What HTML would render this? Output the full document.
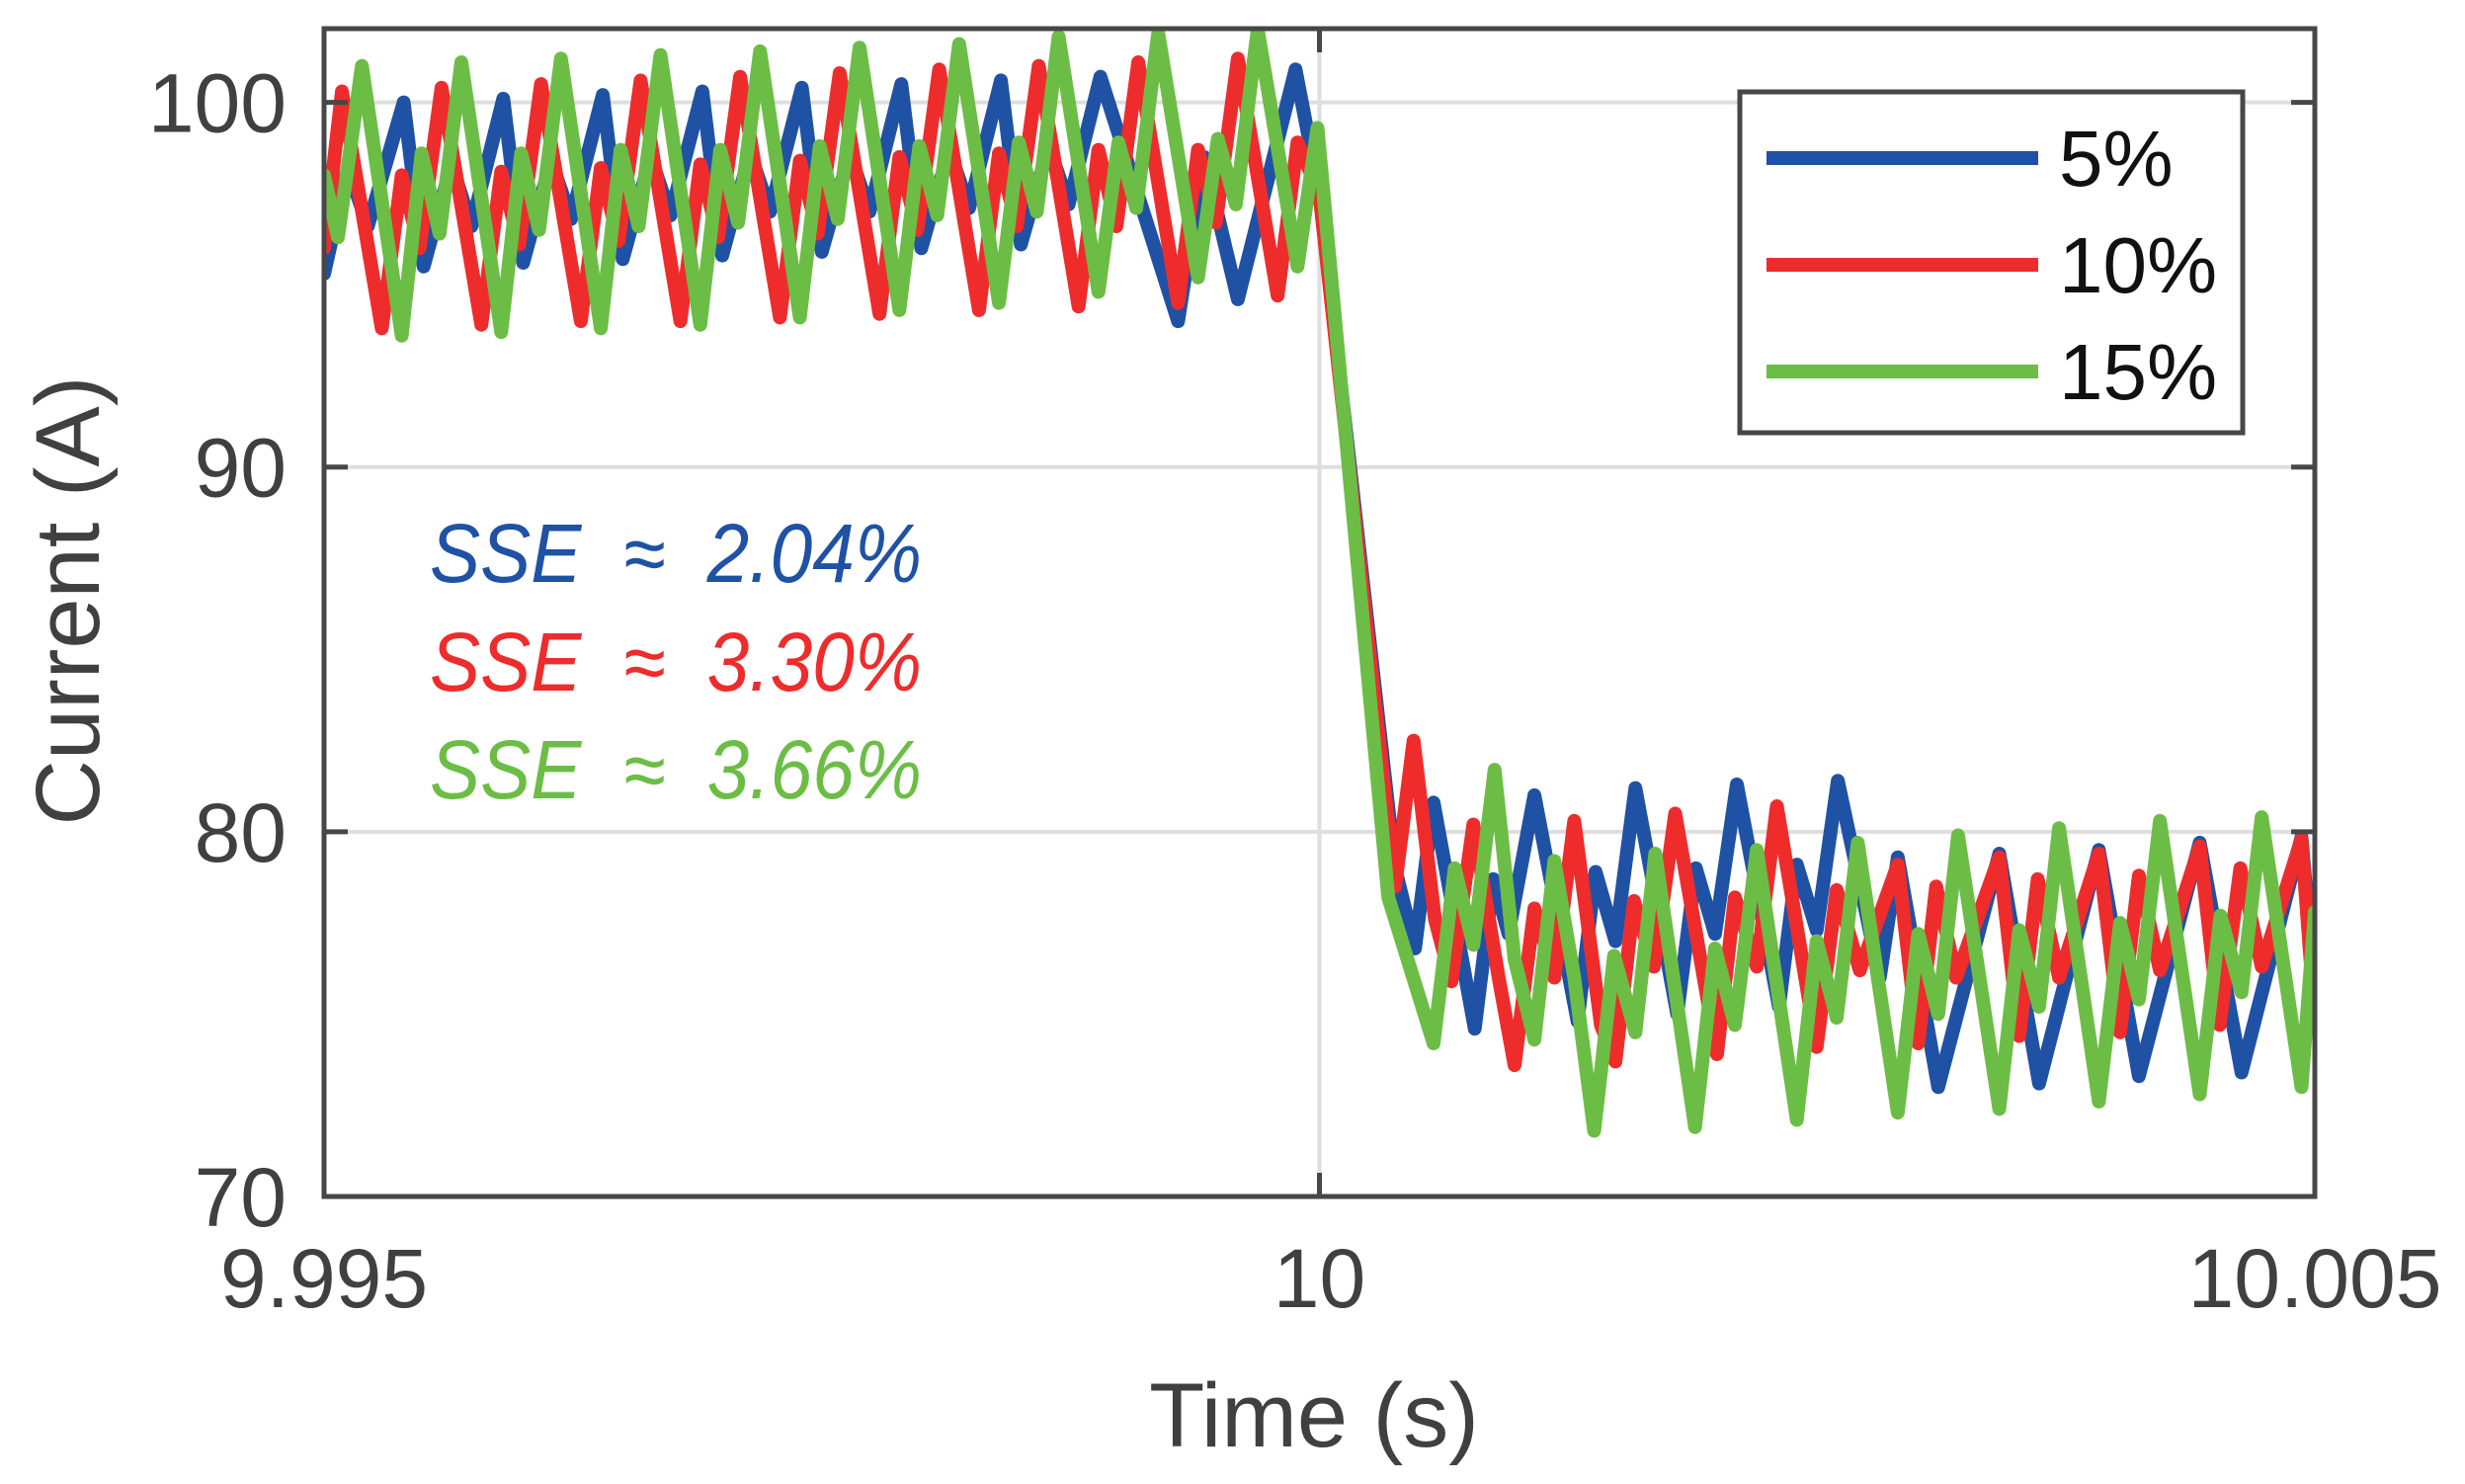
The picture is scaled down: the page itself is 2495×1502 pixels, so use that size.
<!DOCTYPE html>
<html><head><meta charset="utf-8"><style>
html,body{margin:0;padding:0;background:#fff;}
svg{display:block;}
text{font-family:"Liberation Sans",Arial,sans-serif;}
</style></head><body>
<svg id="chart" width="2495" height="1502" viewBox="0 0 2495 1502" xmlns="http://www.w3.org/2000/svg">
<defs><clipPath id="plotclip"><rect x="328" y="29" width="2015" height="1182"/></clipPath></defs>
<rect x="328" y="29" width="2015" height="1182" fill="#fff"/>
<g id="grid"></g>
<g id="series" clip-path="url(#plotclip)"></g>
<rect x="328" y="29" width="2015" height="1182" fill="none" stroke="#474747" stroke-width="5"/>
<g id="ticks"></g>
<text x="1330" y="1464" font-size="92" fill="#404040" text-anchor="middle">Time (s)</text>
<text transform="translate(100,608) rotate(-90)" font-size="92" fill="#404040" text-anchor="middle">Current (A)</text>
<g font-size="84" font-style="italic">
<text x="435" y="589" fill="#1f52a4" textLength="498" lengthAdjust="spacingAndGlyphs" xml:space="preserve">SSE  ≈  2.04%</text>
<text x="435" y="699" fill="#ee2c2c" textLength="498" lengthAdjust="spacingAndGlyphs" xml:space="preserve">SSE  ≈  3.30%</text>
<text x="435" y="808" fill="#6cbd45" textLength="498" lengthAdjust="spacingAndGlyphs" xml:space="preserve">SSE  ≈  3.66%</text>
</g>
<g>
<rect x="1761" y="93" width="509" height="345" fill="#fff" stroke="#474747" stroke-width="5"/>
<line x1="1788" y1="160" x2="2063" y2="160" stroke="#1f52a4" stroke-width="14"/>
<text x="2084" y="188" font-size="80" fill="#111">5%</text>
<line x1="1788" y1="268" x2="2063" y2="268" stroke="#ee2c2c" stroke-width="14"/>
<text x="2084" y="296" font-size="80" fill="#111">10%</text>
<line x1="1788" y1="376" x2="2063" y2="376" stroke="#6cbd45" stroke-width="14"/>
<text x="2084" y="404" font-size="80" fill="#111">15%</text>
</g>
</svg>
<script>
const xTickValues = [0, 5, 10];
const xTickLabels = ["9.995", "10", "10.005"];
const yTickValues = [70, 80, 90, 100];
const yTickLabels = ["70", "80", "90", "100"];
const seriesNames = ["5%", "10%", "15%"];
const blueT = [0,0.12,0.22,0.40,0.50,0.64,0.74,0.90,1.00,1.14,1.24,1.40,1.50,1.64,1.74,1.90,2.00,2.14,2.24,2.40,2.50,2.64,2.74,2.90,3.00,3.14,3.24,3.40,3.50,3.64,3.74,3.90,4.29,4.42,4.59,4.88,5.00,5.38,5.48,5.573,5.78,5.873,5.95,6.08,6.297,6.387,6.487,6.587,6.797,6.891,6.987,7.097,7.308,7.398,7.498,7.604,7.815,7.905,8.108,8.415,8.615,8.915,9.116,9.422,9.632,9.933,10.0];
const blueV = [95.3,98.2,96.6,100.0,95.5,98.3,96.6,100.1,95.6,98.4,96.8,100.2,95.7,98.5,96.9,100.3,95.8,98.6,97.0,100.4,95.9,98.6,97.0,100.5,96.0,98.7,97.1,100.6,96.1,98.8,97.2,100.7,94.0,98.5,94.6,100.9,97.5,79.0,76.8,80.8,74.6,78.7,77.2,81.0,74.8,78.9,77.0,81.2,75.0,79.0,77.2,81.3,75.2,79.1,77.3,81.4,76.0,79.3,73.0,79.4,73.1,79.5,73.3,79.7,73.4,79.85,75.6];
const redT = [0,0.09,0.29,0.39,0.48,0.59,0.79,0.89,0.98,1.09,1.29,1.39,1.48,1.59,1.79,1.89,1.98,2.09,2.29,2.39,2.48,2.59,2.79,2.89,2.98,3.09,3.29,3.39,3.48,3.59,3.79,3.89,3.98,4.09,4.29,4.39,4.48,4.59,4.79,4.89,5.0,5.38,5.473,5.58,5.663,5.773,5.90,5.98,6.08,6.18,6.28,6.414,6.487,6.58,6.68,6.787,6.997,7.087,7.197,7.298,7.498,7.598,7.714,7.905,8.008,8.098,8.198,8.415,8.515,8.608,8.715,8.915,9.022,9.116,9.222,9.422,9.522,9.626,9.733,9.933,10.0];
const redV = [96.0,100.3,93.8,98.0,96.0,100.4,93.9,98.1,96.1,100.5,94.0,98.2,96.2,100.6,94.0,98.3,96.3,100.7,94.1,98.4,96.4,100.8,94.2,98.5,96.5,100.9,94.3,98.6,96.6,101.0,94.4,98.7,96.6,101.1,94.5,98.7,96.7,101.2,94.7,98.9,97.5,78.5,82.5,77.6,75.9,80.2,76.0,73.6,77.9,76.0,80.3,74.7,73.7,78.1,76.3,80.5,73.9,78.2,76.3,80.7,74.1,78.4,76.2,79.1,74.2,78.5,76.0,79.3,74.4,78.7,76.0,79.4,74.5,78.8,76.2,79.6,74.7,79.0,76.3,79.8,74.9];
const greenT = [0,0.07,0.19,0.39,0.49,0.58,0.69,0.89,0.99,1.08,1.19,1.39,1.49,1.58,1.69,1.89,1.99,2.08,2.19,2.39,2.49,2.58,2.69,2.89,2.99,3.08,3.19,3.39,3.49,3.58,3.69,3.89,3.99,4.08,4.19,4.39,4.49,4.58,4.69,4.89,4.99,5.346,5.573,5.68,5.773,5.88,5.98,6.08,6.18,6.28,6.38,6.48,6.587,6.687,6.887,6.987,7.087,7.197,7.398,7.498,7.598,7.704,7.905,8.008,8.108,8.208,8.415,8.515,8.615,8.715,8.915,9.022,9.116,9.222,9.422,9.526,9.632,9.733,9.933,10.0];
const greenV = [98.0,96.3,101.0,93.6,98.6,96.4,101.1,93.7,98.6,96.5,101.2,93.8,98.7,96.6,101.3,93.9,98.7,96.7,101.4,94.1,98.8,96.8,101.5,94.3,98.8,96.9,101.6,94.5,98.9,97.0,101.8,94.8,98.9,97.1,101.9,95.2,99.0,97.2,102.0,95.5,99.3,78.2,74.2,79.0,76.9,81.7,76.5,74.3,79.2,76.0,71.8,76.6,74.5,79.4,71.9,76.8,74.7,79.5,72.1,77.0,74.9,79.7,72.3,77.2,75.0,79.9,72.4,77.3,75.2,80.1,72.6,77.5,75.4,80.3,72.8,77.7,75.6,80.4,73.0,77.8];

const NS = "http://www.w3.org/2000/svg";
const PL = 328, PR = 2343, PT = 29, PB = 1211;
const X0 = 0, X1 = 10, Y0 = 70, Y1 = 102.02;
function xScale(t){ return PL + (t - X0) / (X1 - X0) * (PR - PL); }
function yScale(v){ return PB - (v - Y0) / (Y1 - Y0) * (PB - PT); }
function mk(tag, attrs){ const e = document.createElementNS(NS, tag); for (const k in attrs) e.setAttribute(k, attrs[k]); return e; }

const grid = document.getElementById("grid");
const ticks = document.getElementById("ticks");
yTickValues.forEach((v, i) => {
  const y = yScale(v);
  if (v > Y0) {
    const g = mk("line", {x1: PL, x2: PR, y1: y, y2: y, stroke: "#dedede", "stroke-width": 4});
    
    
    grid.appendChild(g);
  }
  const t1 = mk("line", {x1: PL, x2: PL + 24, y1: y, y2: y, stroke: "#474747", "stroke-width": 5});
  
  
  ticks.appendChild(t1);
  const t2 = mk("line", {x1: PR - 24, x2: PR, y1: y, y2: y, stroke: "#474747", "stroke-width": 5});
  
  
  ticks.appendChild(t2);
  const lb = mk("text", {x: 290, y: y + 30, "text-anchor": "end", "font-size": 84, fill: "#404040"});
  lb.textContent = yTickLabels[i];
  
  
  ticks.appendChild(lb);
});
xTickValues.forEach((t, i) => {
  const x = xScale(t);
  if (t > X0 && t < X1) {
    const g = mk("line", {x1: x, x2: x, y1: PT, y2: PB, stroke: "#dedede", "stroke-width": 4});
    
    
    grid.appendChild(g);
  }
  const t1 = mk("line", {x1: x, x2: x, y1: PB - 24, y2: PB, stroke: "#474747", "stroke-width": 5});
  
  
  ticks.appendChild(t1);
  const t2 = mk("line", {x1: x, x2: x, y1: PT, y2: PT + 24, stroke: "#474747", "stroke-width": 5});
  
  
  ticks.appendChild(t2);
  const lb = mk("text", {x: x, y: 1323, "text-anchor": "middle", "font-size": 84, fill: "#404040"});
  lb.textContent = xTickLabels[i];
  
  
  ticks.appendChild(lb);
});

const seriesGroup = document.getElementById("series");
function drawSeries(ts, vs, color, name){
  const d = ts.map((t, i) => (i ? "L" : "M") + xScale(t).toFixed(1) + "," + yScale(vs[i]).toFixed(1)).join(" ");
  const p = mk("path", {d: d, fill: "none", stroke: color, "stroke-width": 14, "stroke-linejoin": "round", "stroke-linecap": "round"});
  
  
  seriesGroup.appendChild(p);
}
drawSeries(blueT, blueV, "#1f52a4", "series-5-percent");
drawSeries(redT, redV, "#ee2c2c", "series-10-percent");
drawSeries(greenT, greenV, "#6cbd45", "series-15-percent");
</script>
</body></html>
